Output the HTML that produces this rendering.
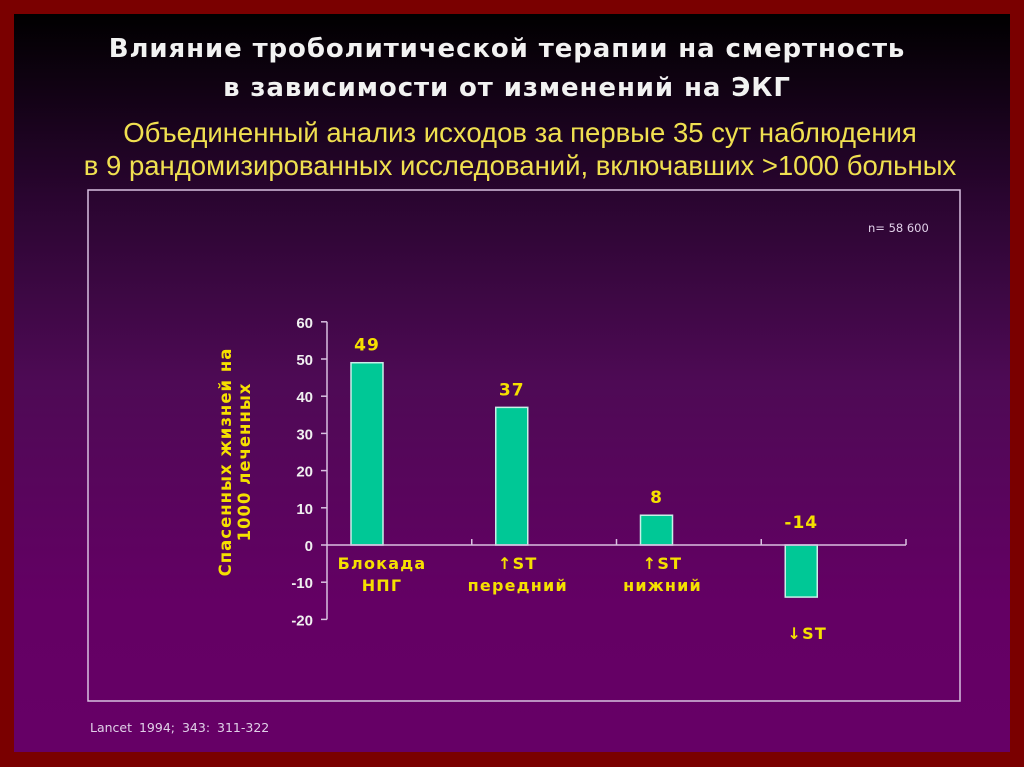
<!DOCTYPE html>
<html><head><meta charset="utf-8"><style>
body{margin:0;width:1024px;height:767px;background:#7a0000;overflow:hidden;font-family:"Liberation Sans",sans-serif}
#slide{position:absolute;left:14px;top:14px;width:996px;height:738px;background:linear-gradient(#000 0%,#2a0530 25%,#4e0a55 50%,#640064 80%,#660066 100%)}
.t{position:absolute;left:0;width:100%;text-align:center}
</style></head><body>
<div id="slide">
<div class="t" style="top:16px;color:#f2f2f2;font-family:'DejaVu Sans',sans-serif;font-weight:bold;font-size:26px;letter-spacing:0.9px;line-height:39px;left:-5px">Влияние троболитической терапии на смертность<br>в зависимости от изменений на ЭКГ</div>
<div class="t" style="top:102px;color:#f0e050;font-size:27.5px;line-height:33px;left:8px">Объединенный анализ исходов за первые 35 сут наблюдения<br>в 9 рандомизированных исследований, включавших &gt;1000 больных</div>
</div>
<svg width="1024" height="767" style="position:absolute;left:0;top:0">
<rect x="88" y="190" width="872" height="511" fill="none" stroke="#d8c0e0" stroke-width="1.5"/>
<text x="868" y="232" fill="#e0d0e8" font-size="11.5" font-family="DejaVu Sans,sans-serif">n= 58 600</text>
<text x="90" y="732" fill="#e0d0e8" font-size="12.5" font-family="DejaVu Sans,sans-serif" word-spacing="3">Lancet 1994;  343:  311-322</text>
<g id="g"></g>
<text transform="translate(231,462) rotate(-90)" text-anchor="middle" fill="#f5e000" font-weight="bold" font-size="16.5" font-family="DejaVu Sans,sans-serif" letter-spacing="1"><tspan x="0" dy="0">Спасенных жизней на</tspan><tspan x="0" dy="19">1000 леченных</tspan></text>
</svg>
<script>
const categories=[["Блокада","НПГ"],["↑ST","передний"],["↑ST","нижний"],["↓ST",""]];
const values=[49,37,8,-14];
const valueLabels=["49","37","8","-14"];
const yTicks=[60,50,40,30,20,10,0,-10,-20];
const NS="http://www.w3.org/2000/svg";
const g=document.getElementById('g');
const x0=327,x1=906,n=categories.length,bw=(x1-x0)/n;
function y(v){return 545-v*3.72;}
function xc(i){return x0+bw*i+40;}
function mk(t,a,txt){const e=document.createElementNS(NS,t);for(const k in a)e.setAttribute(k,a[k]);if(txt!=null)e.textContent=txt;g.appendChild(e);return e;}
let e=mk('line',{x1:x0,y1:y(60),x2:x0,y2:y(-20),stroke:'#d8c0e0','stroke-width':1.5});


yTicks.forEach(t=>{
 let l=mk('line',{x1:x0-6,y1:y(t),x2:x0,y2:y(t),stroke:'#d8c0e0','stroke-width':1.5});
 
 
 let tx=mk('text',{x:x0-14,y:y(t)+6,'text-anchor':'end',fill:'#f0f0f0','font-weight':'bold','font-size':15},String(t));
 
 
});
values.forEach((v,i)=>{
 const cx=xc(i),top=y(Math.max(v,0)),h=Math.abs(y(v)-y(0));
 let r=mk('rect',{x:cx-16,y:top,width:32,height:h,fill:'#00c896',stroke:'#c8f0e8','stroke-width':1.5});
 
 
 let vl=mk('text',{x:cx,y:(v>=0?y(v):y(0))-(v>=0?12:17),'text-anchor':'middle',fill:'#f5e000','font-weight':'bold','font-size':17,'font-family':'DejaVu Sans,sans-serif','letter-spacing':1},valueLabels[i]);
 
 
 const c=categories[i];
 const ly=v>=0?y(0)+24:y(v)+42;
 const lx=cx+(i==0?15:6);
 let cl=mk('text',{x:lx,y:ly,'text-anchor':'middle',fill:'#f5e000','font-weight':'bold','font-size':16,'font-family':'DejaVu Sans,sans-serif','letter-spacing':1.2});
 
 
 c.forEach((s,j)=>{if(!s)return;const ts=document.createElementNS(NS,'tspan');ts.setAttribute('x',lx);ts.setAttribute('dy',j?22:0);ts.textContent=s;cl.appendChild(ts);});
});
e=mk('line',{x1:x0,y1:y(0),x2:x1,y2:y(0),stroke:'#d8c0e0','stroke-width':1.5});


for(let i=1;i<=n;i++){
 let l=mk('line',{x1:x0+bw*i,y1:y(0),x2:x0+bw*i,y2:y(0)-6,stroke:'#d8c0e0','stroke-width':1.5});
 
 
}
</script>
</body></html>
